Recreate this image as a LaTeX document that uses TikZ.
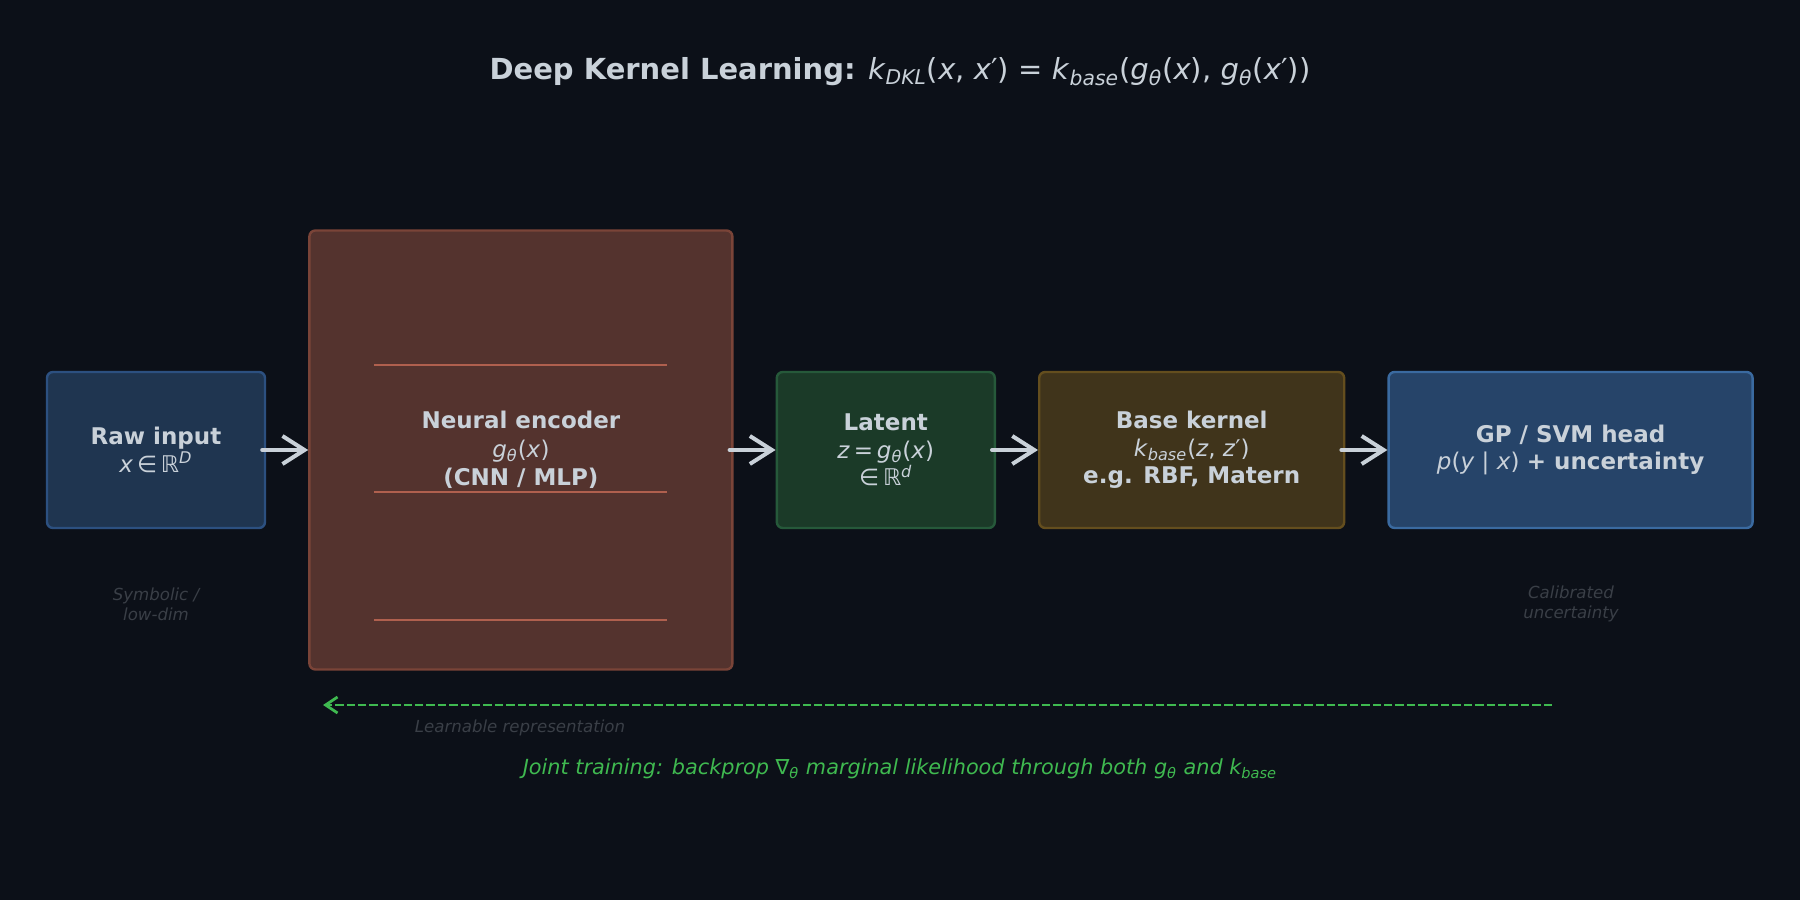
\documentclass[tikz,border=0pt]{standalone}
\usepackage{fontspec}
\setmainfont{DejaVu Sans}
\usetikzlibrary{arrows.meta, positioning, calc}

\definecolor{bgcol}{HTML}{0C1018}
\definecolor{txtcol}{HTML}{C9D1D9}
\definecolor{notecol}{HTML}{3A3F47}
\definecolor{gpgreen}{HTML}{3FB950}
\definecolor{rawfill}{HTML}{1F3550}
\definecolor{rawline}{HTML}{2C5080}
\definecolor{encfill}{HTML}{54332E}
\definecolor{encline}{HTML}{7A4438}
\definecolor{encrule}{HTML}{B0604E}
\definecolor{latfill}{HTML}{1B3A28}
\definecolor{latline}{HTML}{26593A}
\definecolor{basefill}{HTML}{40341B}
\definecolor{baseline}{HTML}{644E1E}
\definecolor{headfill}{HTML}{264469}
\definecolor{headline}{HTML}{3A6AA0}

% italic letter, sub- and superscripts in the text font
\newcommand{\mi}[1]{\textit{#1}}
\newcommand{\lo}[1]{\textsubscript{\itshape #1}}
\newcommand{\hi}[1]{\textsuperscript{\itshape #1}}

\begin{document}
\begin{tikzpicture}[
    x=1pt, y=1pt,
    stagebox/.style={rectangle, rounded corners=3pt, line width=1.2pt, align=center,
      text=txtcol, minimum height=78pt, font=\fontsize{11.5}{13.8}\selectfont},
    flowarrow/.style={-{Straight Barb[length=11pt, width=14pt]}, line width=2pt,
      draw=txtcol, line cap=round},
    backarrow/.style={-{Straight Barb[length=6pt, width=8pt]}, line width=1.4pt,
      draw=gpgreen, dash pattern=on 4.2pt off 1.5pt},
    notelabel/.style={text=notecol, align=center, font=\fontsize{8.3}{10}\selectfont\itshape}
  ]
  \useasboundingbox (0, 0) rectangle (900, 450);
  \fill[bgcol] (0, 0) rectangle (900, 450);

  % title
  \node[text=txtcol, font=\fontsize{14.5}{17}\selectfont] (title) at (450, 414)
    {\textbf{Deep Kernel Learning:} \mi{k}\lo{DKL}(\mi{x}, \mi{x}′) = \mi{k}\lo{base}(\mi{g}\lo{θ}(\mi{x}), \mi{g}\lo{θ}(\mi{x}′))};

  % pipeline stages
  \node[stagebox, fill=rawfill, draw=rawline, minimum width=109pt] (raw) at (78, 225)
    {\textbf{Raw input}\\\mi{x}\,∈\,ℝ\hi{D}};
  \node[stagebox, fill=encfill, draw=encline, minimum width=211.5pt, minimum height=219.5pt,
    right=21pt of raw, font=\fontsize{11.5}{14.3}\selectfont] (enc)
    {\textbf{Neural encoder}\\\mi{g}\lo{θ}(\mi{x})\\\textbf{(CNN / MLP)}};
  \node[stagebox, fill=latfill, draw=latline, minimum width=109pt, right=21pt of enc] (lat)
    {\textbf{Latent}\\\mi{z}\,=\,\mi{g}\lo{θ}(\mi{x})\\∈\,ℝ\hi{d}};
  \node[stagebox, fill=basefill, draw=baseline, minimum width=152.5pt, right=21pt of lat] (base)
    {\textbf{Base kernel}\\\mi{k}\lo{base}(\mi{z}, \mi{z}′)\\\textbf{e.g. RBF, Matern}};
  \node[stagebox, fill=headfill, draw=headline, minimum width=182pt, right=21pt of base] (head)
    {\textbf{GP / SVM head}\\\mi{p}(\mi{y} | \mi{x}) \textbf{+ uncertainty}};

  % layer rules inside the encoder
  \foreach \dy in {42.5, -21, -85}
    \draw[encrule, line width=0.8pt] ($(enc.center)+(-73.25, \dy)$) -- ($(enc.center)+(73.25, \dy)$);

  % forward flow
  \draw[flowarrow] ([xshift=-2pt] raw.east) -- (enc.west);
  \draw[flowarrow] ([xshift=-2pt] enc.east) -- (lat.west);
  \draw[flowarrow] ([xshift=-2pt] lat.east) -- (base.west);
  \draw[flowarrow] ([xshift=-2pt] base.east) -- (head.west);

  % side notes
  \node[notelabel] (rawnote) at (78, 148) {Symbolic /\\low-dim};
  \node[notelabel] (headnote) at (785.5, 148) {Calibrated\\uncertainty};

  % joint training feedback
  \coordinate (jtR) at (776, 97.5);
  \coordinate (jtL) at (161.5, 97.5);
  \draw[backarrow] (jtR) -- (jtL);
  \node[notelabel] (learnnote) at (260, 86) {Learnable representation};
  \node[text=gpgreen, font=\fontsize{10.4}{12}\selectfont\itshape] (jtnote) at (450, 65.5)
    {Joint training: backprop {\upshape ∇}\lo{θ} marginal likelihood through both g\lo{θ} and k\lo{base}};
\end{tikzpicture}
\end{document}
